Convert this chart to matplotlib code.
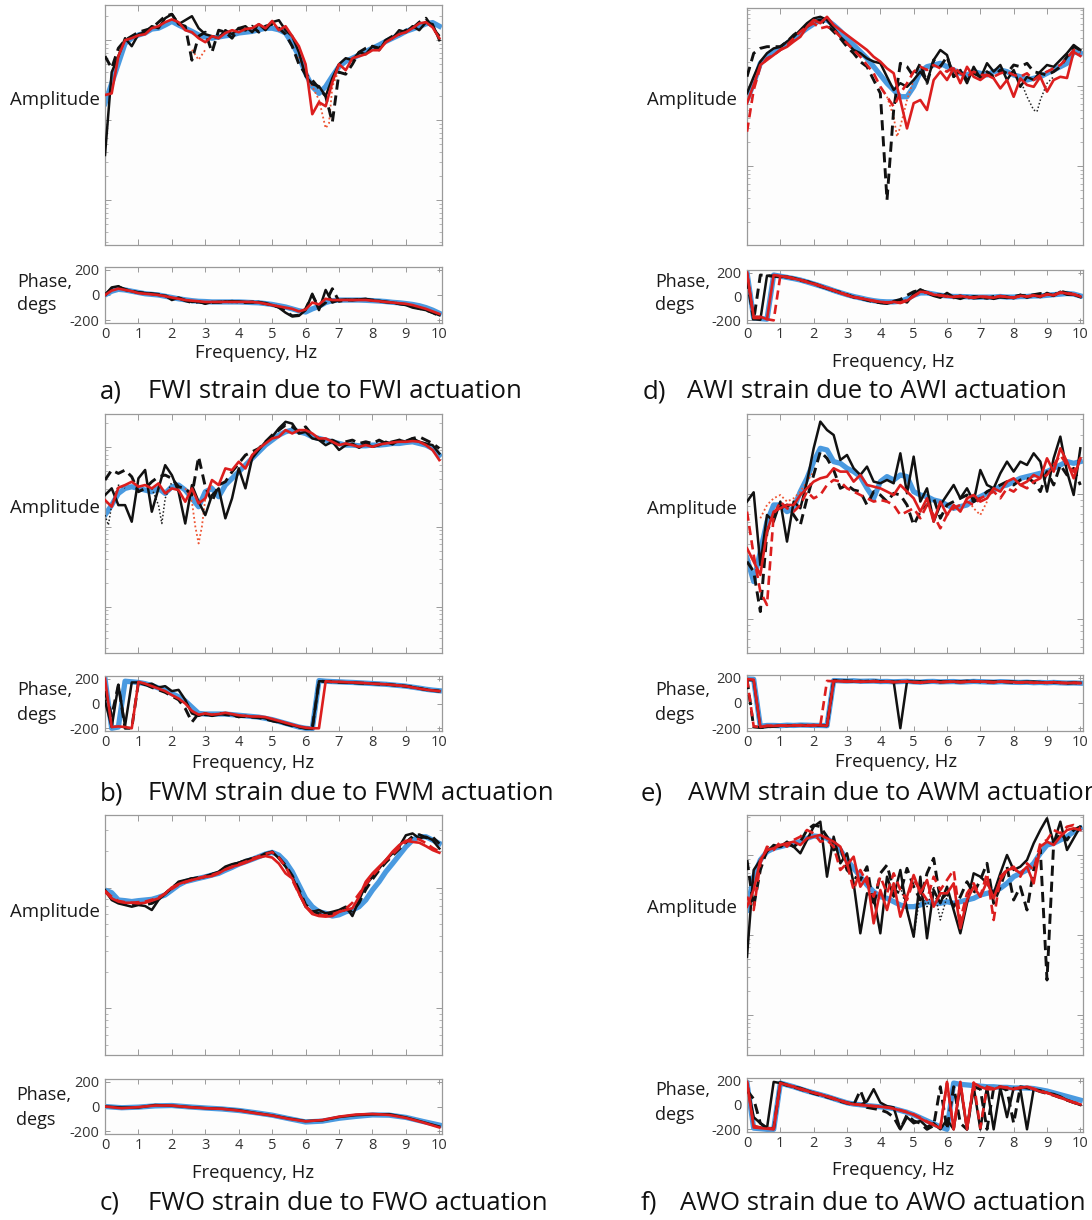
import numpy as np
import matplotlib
matplotlib.use("Agg")
import matplotlib.pyplot as plt
from matplotlib.ticker import LogLocator, NullFormatter

plt.rcParams['axes.unicode_minus'] = False
plt.rcParams['font.family'] = ['Open Sans', 'DejaVu Sans']

W, H = 1092, 1220

# ---------------- frequency grids (Hz) ----------------
FREQ = np.round(np.arange(51) * 0.2, 1)     # spectral lines every 0.2 Hz
FREQ_HALF = np.arange(21) * 0.5              # smooth phase curves of panel c
FREQ_TICKS = list(range(11))
PHASE_TICKS = [-200, 0, 200]
PHASE_TICKLABELS = ['-200', '0', '200']

# ---------------- panel a : FWI (amplitude in dB) ----------------
blue_a = [-15.8, -10.8, -5.8, -0.8, 0.5, 1.3, 1.8, 2.8, 3.0, 3.8, 4.7, 3.8, 3.0, 2.2, 1.3, 0.8, 0.5, 0.8, 1.1, 1.3,
          1.8, 2.0, 2.2, 2.6, 3.0, 3.0, 2.6, 1.8, -0.8, -4.0, -8.3, -11.6, -13.3, -11.6, -9.0, -6.6, -5.3, -4.5, -3.7,
          -2.8, -2.0, -1.2, -0.3, 0.5, 1.3, 2.2, 2.8, 3.4, 4.1, 4.4, 3.5]
red_a = [-13.7, -13.3, -4.0, 0.0, 0.5, 1.2, 1.5, 3.0, 3.5, 4.5, 5.2, 4.5, 2.5, 2.0, 0.5, -0.5, 1.0, 0.5, 1.8, 2.5,
         2.0, 2.8, 3.0, 4.0, 3.0, 4.8, 2.5, 3.5, 1.0, -1.5, -6.0, -18.5, -15.5, -16.5, -10.5, -6.0, -7.5, -4.5, -4.0,
         -3.5, -2.5, -2.5, -0.5, 0.5, 1.5, 2.0, 3.0, 4.2, 4.5, 3.2, 0.5]
black_a = [-28.7, -8.0, -4.0, 0.5, -1.5, 1.5, 2.0, 3.5, 3.0, 5.5, 6.5, 4.0, 5.0, 6.0, 3.0, 1.5, 1.0, 0.5, 2.5, 1.5,
           3.0, 3.5, 2.0, 4.0, 2.5, 4.5, 5.0, 2.5, 1.0, -3.0, -9.0, -11.0, -11.5, -14.0, -9.5, -6.0, -4.5, -5.0, -3.0,
           -3.5, -1.5, -2.5, 0.0, 0.5, 2.5, 2.0, 3.5, 2.5, 4.5, 4.0, 0.0]
bdash_a = [-4.0, -7.0, -2.0, 0.0, 1.0, 2.0, 2.5, 3.0, 4.5, 6.0, 6.5, 4.0, 3.5, -5.0, 1.0, 2.0, -3.0, 2.5, 2.0, 0.5,
           3.0, 2.5, 3.5, 2.0, 3.5, 4.0, 3.0, 1.5, -1.5, -6.0, -8.5, -10.0, -12.0, -14.0, -20.5, -8.0, -8.5, -6.0,
           -3.0, -2.0, -1.5, -2.0, 0.0, 1.0, 1.5, 2.5, 3.0, 4.5, 5.5, 3.0, 1.0]
rdot_a_f = [2.6, 2.8, 3.0, np.nan, 5.8, 6.0, 6.2, 6.4, 6.6, 6.7, 6.8, 7.0]
rdot_a = [-2.4, -4.9, -2.4, np.nan, -4.1, -8.25, -11.6, -14.9, -22.0, -20.75, -11.6, -7.4]

ph_blue_a = [0, 30, 45, 40, 30, 20, 10, 5, 0, -10, -20, -30, -38, -45, -50, -52, -55, -55, -55, -55, -55, -57, -60,
             -62, -68, -75, -85, -95, -110, -125, -135, -110, -90, -60, -45, -40, -40, -40, -40, -42, -45, -48, -52,
             -58, -62, -68, -75, -85, -100, -120, -145]
ph_red_a = [0, 35, 50, 40, 30, 15, 10, 5, 0, -10, -20, -30, -40, -45, -50, -55, -55, -55, -55, -55, -55, -55, -55,
            -60, -70, -80, -90, -100, -110, -130, -115, -60, -75, -30, -40, -40, -40, -40, -40, -40, -45, -50, -55,
            -60, -65, -70, -80, -95, -110, -130, -150]
ph_black_a = [0, 60, 70, 40, 30, 20, 15, 10, 0, -5, -40, -20, -40, -55, -50, -70, -55, -60, -50, -55, -50, -55, -60,
              -55, -70, -80, -100, -140, -170, -165, -120, 10, -120, 40, -60, -40, -35, -40, -35, -30, -45, -45, -55,
              -60, -70, -80, -100, -110, -120, -140, -160]
ph_bdash_a = [0, 50, 65, 45, 30, 20, 15, 10, 5, -5, -30, -25, -45, -60, -55, -65, -60, -55, -55, -50, -55, -60, -55,
              -60, -65, -80, -95, -130, -165, -160, -110, 0, -100, -60, 50, -50, -40, -40, -35, -35, -40, -50, -55,
              -60, -70, -75, -90, -105, -120, -140, -165]

# ---------------- panel b : FWM ----------------
blue_b = [-17.08, -14.58, -11.67, -10.42, -10.0, -10.42, -10.83, -11.25, -10.42, -11.67, -10.0, -9.58, -10.83,
          -12.92, -15.0, -11.25, -10.42, -12.5, -9.58, -7.92, -6.25, -4.58, -2.92, -1.25, 0.42, 1.67, 2.92, 3.75,
          4.17, 3.75, 3.33, 2.5, 2.08, 1.67, 1.25, 0.83, 0.42, 0.42, 0.25, 0.25, 0.42, 0.42, 0.58, 0.83, 0.83, 1.08,
          1.25, 0.83, 0.42, -0.42, -2.08]
red_b = [-13.33, -15.0, -10.25, -9.58, -8.75, -10.0, -9.58, -10.42, -9.17, -11.67, -10.42, -10.83, -13.75, -10.42,
         -14.17, -12.92, -8.33, -9.58, -5.42, -5.83, -3.75, -5.42, -2.08, -0.42, 0.83, 2.08, 2.5, 4.17, 3.33, 4.17,
         4.17, 3.33, 2.08, 2.08, 1.25, 0.42, 0.83, 0.42, 0.0, 0.42, 0.0, 0.58, 0.83, 1.08, 1.25, 1.25, 1.42, 1.25,
         0.42, -0.83, -3.33]
black_b = [-12.1, -10.4, -14.6, -14.6, -18.75, -7.9, -5.8, -16.25, -10.4, -4.6, -7.1, -11.25, -19.2, -9.6, -13.75,
           -17.1, -12.1, -10.4, -17.9, -12.9, -5.4, -10.4, -2.9, -0.8, 1.25, 2.5, 4.6, 6.25, 5.8, 3.3, 3.75, 2.1, 1.7,
           0.4, 1.25, -0.8, 0.4, 0.8, -0.25, 0.8, 0.0, 0.4, 1.25, 0.6, 1.7, 1.25, 2.1, 1.25, 0.8, 0.4, -1.7]
bdash_b = [-8.33, -5.83, -6.67, -5.83, -7.5, -11.25, -10.42, -8.75, -7.5, -7.08, -7.92, -10.0, -10.42, -12.08, -2.5,
           -10.0, -13.75, -9.58, -8.75, -6.25, -4.17, -2.08, -1.25, -0.42, 1.25, 2.92, 4.17, 5.42, 5.0, 3.75, 5.0,
           2.92, 2.08, 1.25, 1.67, 0.83, 1.25, 1.67, 0.83, 1.25, 0.83, 1.67, 0.83, 1.25, 1.67, 1.42, 2.08, 2.5, 1.67,
           0.83, -0.42]
rdot_b_f = [2.4, 2.6, 2.7, 2.8, 2.9, 3.0, 3.2]
rdot_b = [-10.4, -13.75, -19.9, -24.2, -19.9, -12.9, -9.6]
bdot_b_f = [0.0, 0.1, 0.2, 0.4, 0.6, np.nan, 1.4, 1.6, 1.7, 1.8, 2.0]
bdot_b = [-17.1, -19.6, -14.6, -9.6, -10.4, np.nan, -10.4, -14.6, -19.2, -12.9, -8.75]

ph_blue_b = [200, -200, -190, 180, 175, 170, 160, 145, 125, 105, 80, 55, 20, -30, -80, -85, -85, -85, -85, -90, -95,
             -100, -105, -110, -120, -130, -145, -160, -175, -190, -200, -205, 185, 180, 177, 175, 172, 170, 167, 164,
             161, 158, 155, 150, 145, 140, 132, 124, 115, 108, 103]
ph_red_b = [200, -190, -185, -190, -200, 175, 160, 140, 120, 100, 68, 40, 0, -60, -90, -80, -90, -85, -75, -85, -95,
            -100, -105, -105, -110, -125, -140, -155, -170, -185, -195, -200, -200, 180, 175, 175, 172, 170, 168, 165,
            160, 158, 155, 150, 145, 140, 130, 120, 112, 105, 100]
ph_black_b = [20, -190, 150, -180, 170, 170, 150, 160, 130, 140, 100, 110, 30, -80, -100, -80, -100, -90, -80, -90,
              -110, -100, -110, -110, -120, -140, -150, -165, -175, -190, -200, -205, 180, 178, 175, 172, 170, 168,
              165, 163, 160, 157, 155, 150, 145, 140, 132, 122, 112, 105, 100]
ph_bdash_b = [100, -100, 150, -200, -200, 170, 155, 130, 110, 90, 60, 30, -40, -150, -80, -90, -95, -80, -90, -95,
              -105, -105, -110, -115, -125, -140, -150, -165, -180, -190, -200, -200, 180, 178, 175, 172, 170, 168,
              165, 163, 160, 157, 155, 150, 145, 140, 132, 122, 112, 105, 100]

# ---------------- panel c : FWO ----------------
blue_c = [-0.39, -0.83, -2.04, -2.15, -2.3, -2.15, -2.04, -1.93, -1.6, -1.2, -0.39, 0.44, 1.0, 1.27, 1.55, 1.8, 2.1,
          2.38, 2.9, 3.37, 3.9, 4.3, 4.7, 5.14, 5.58, 5.86, 5.4, 4.3, 2.65, 0.44, -1.77, -3.15, -4.0, -4.25, -4.7,
          -4.5, -4.0, -3.7, -3.15, -2.04, -0.39, 1.0, 2.65, 4.0, 5.4, 6.8, 7.9, 8.45, 8.45, 7.9, 7.35]
red_c = [-0.66, -1.77, -2.3, -2.5, -2.5, -2.6, -2.5, -2.15, -1.77, -0.94, 0.05, 0.6, 1.0, 1.27, 1.55, 1.8, 1.93, 2.38,
         3.04, 3.5, 3.76, 4.14, 4.6, 5.0, 5.25, 5.0, 4.0, 2.38, 1.55, -0.94, -3.15, -4.36, -4.7, -4.8, -4.7, -4.0,
         -3.7, -3.4, -1.5, 1.0, 2.38, 3.5, 4.6, 5.97, 7.07, 7.8, 7.6, 7.46, 6.9, 6.24, 5.8]
rdash_c = [-0.5, -1.5, -2.2, -2.4, -2.5, -2.4, -2.3, -2.0, -1.6, -1.0, -0.2, 0.5, 0.9, 1.3, 1.6, 1.9, 2.1, 2.5, 3.0,
           3.4, 3.9, 4.3, 4.8, 5.2, 5.6, 5.9, 5.0, 3.5, 1.3, -1.0, -3.0, -4.2, -4.5, -4.6, -4.4, -4.0, -3.5, -2.5,
           -1.0, 0.5, 2.0, 3.2, 4.5, 5.5, 6.6, 7.6, 8.2, 8.0, 7.4, 6.6, 6.0]
black_c = [-0.39, -2.04, -2.6, -2.87, -3.15, -2.87, -3.04, -3.7, -2.04, -0.94, -0.1, 1.0, 1.27, 1.55, 1.55, 1.8, 2.27,
           2.65, 3.5, 3.9, 4.14, 4.6, 4.86, 5.14, 5.7, 5.97, 4.86, 3.5, 1.8, -0.66, -3.15, -4.0, -3.7, -4.25, -4.0,
           -3.7, -3.15, -4.7, -2.04, 0.44, 1.8, 3.2, 4.6, 5.7, 6.8, 8.7, 9.0, 8.2, 8.45, 7.9, 6.5]
bdash_c = [-0.5, -1.8, -2.4, -2.7, -2.9, -2.7, -2.8, -2.6, -2.0, -1.0, 0.0, 0.8, 1.2, 1.5, 1.7, 1.9, 2.2, 2.6, 3.3,
           3.8, 4.1, 4.5, 4.8, 5.1, 5.5, 5.9, 5.0, 3.7, 2.0, -0.3, -2.8, -3.9, -4.3, -4.4, -4.3, -4.0, -3.6, -3.9,
           -2.5, -0.3, 1.4, 2.9, 4.2, 5.3, 6.4, 7.5, 8.5, 8.8, 8.3, 8.4, 7.3]

ph_blue_c = [0, -10, -5, 5, 8, -3, -12, -20, -32, -50, -70, -98, -125, -118, -95, -80, -68, -70, -88, -120, -150]
ph_red_c = [0, -14, -5, 8, 8, -5, -14, -19, -33, -54, -73, -100, -120, -109, -82, -65, -60, -68, -92, -128, -169]
ph_black_c = [0, -8, -8, 12, 6, -4, -13, -18, -30, -52, -72, -97, -118, -112, -85, -70, -64, -62, -88, -125, -162]

# ---------------- panel d : AWI ----------------
blue_d = [-3.5, 0.67, 5.67, 7.33, 8.58, 9.42, 10.67, 11.92, 13.17, 14.42, 15.5, 16.5, 16.5, 15.25, 13.75, 11.92, 10.25,
          8.58, 6.92, 4.83, 2.75, 0.67, -1.0, -2.67, -2.67, -0.17, 3.58, 4.83, 5.25, 5.67, 4.83, 4.0, 3.17, 2.75,
          3.58, 3.17, 2.75, 3.58, 4.0, 3.58, 2.75, 2.33, 1.5, 1.92, 2.33, 3.17, 4.0, 4.83, 5.67, 8.58, 8.17]
red_d = [-4.3, 0.25, 5.25, 6.5, 7.75, 9.0, 9.8, 11.1, 12.3, 14.8, 16.5, 15.7, 17.3, 15.25, 14.0, 12.75, 11.5, 10.25,
         9.0, 7.3, 6.1, 4.4, 3.2, -3.5, -10.6, -4.3, -3.5, -6.0, 1.5, 3.6, 1.5, 4.4, 0.7, 4.8, 2.3, 1.5, 2.75, 1.9,
         -0.6, 1.5, -2.7, 1.9, 0.25, -0.2, 2.3, -1.4, 1.5, 2.3, 2.0, 8.5, 7.5]
black_d = [-1.8, 2.3, 6.1, 8.2, 9.4, 9.8, 11.1, 12.3, 14.0, 15.7, 16.9, 17.3, 16.5, 14.4, 12.3, 10.7, 9.0, 8.2, 6.9,
           6.1, 5.7, 2.3, -1.0, 0.7, -0.2, 1.5, 3.6, 1.1, 6.5, 9.0, 7.75, 2.3, 4.0, 0.7, 4.8, 1.9, 5.7, 3.6, 5.25,
           1.5, 4.0, -0.2, 2.3, 1.5, 3.6, 5.25, 4.8, 6.5, 8.2, 10.25, 9.0]
bdash_d = [2.33, 8.17, 9.42, 9.83, 9.83, 9.83, 11.08, 12.75, 14.0, 14.83, 16.08, 16.5, 15.25, 13.58, 11.92, 9.83, 8.17,
           6.08, 4.83, 1.5, -1.83, -28.5, -6.0, 5.67, 4.83, 2.33, 5.67, 0.67, 6.5, 4.83, 7.33, 2.33, 4.0, 1.5, 3.17,
           2.33, 3.58, 2.33, 4.0, 3.17, 5.25, 4.83, 5.67, 3.58, 3.17, 2.75, 3.58, 4.83, 7.33, 9.83, 9.0]
rdash_d = [-11.42, -1.0, 4.83, 6.92, 7.75, 9.0, 10.25, 11.92, 13.58, 14.83, 15.67, 14.42, 14.83, 14.0, 12.33, 10.67,
           9.0, 7.33, 5.25, 3.17, -0.17, -2.67, -5.17, -1.83, 0.67, 3.58, 4.83, 4.0, 5.25, 4.42, 3.58, 4.83, 3.17,
           2.33, 3.58, 2.75, 2.75, 2.33, 3.17, 3.58, 2.75, 2.33, 3.17, 1.5, 2.75, 3.58, 4.42, 5.25, 6.92, 9.0, 8.17]
rdot_d_f = [4.2, 4.4, 4.5, 4.6, 4.8, 5.0]
rdot_d = [-2.67, -7.67, -12.67, -10.17, -3.5, 1.5]
bdot_d_f = [8.2, 8.4, 8.6, 8.7, 8.8, 9.0, 9.2]
bdot_d = [1.5, -2.67, -6.0, -6.4, -3.5, 0.67, 2.33]

ph_blue_d = [200, -180, -185, -190, 180, 170, 160, 150, 138, 122, 105, 88, 70, 50, 32, 15, 0, -12, -25, -35, -42,
             -45, -45, -40, -20, 10, 30, 30, 20, 10, 5, 0, 0, -2, -5, -5, -5, -5, 0, -5, -5, 0, 0, 5, 5, 10, 15, 20,
             25, 20, 5]
ph_red_d = [200, -170, -170, -190, 180, 172, 162, 150, 138, 120, 105, 88, 70, 50, 30, 10, -5, -15, -25, -35, -45,
            -50, -45, -55, -35, 0, 40, 35, 15, 10, 0, -5, 5, -5, -10, 0, -5, -10, 5, -5, -10, 5, 0, 10, 0, 20, 10,
            35, 25, 20, 0]
ph_black_d = [190, -190, -195, 175, 170, 165, 165, 155, 140, 125, 110, 90, 65, 50, 30, 15, -5, -15, -30, -40, -55,
              -60, -45, -30, -50, 20, 60, 30, 5, -10, 30, -5, -20, 0, -15, -10, -5, -20, -5, 0, -15, 15, -10, 10,
              -5, 30, 5, 40, 15, 15, -5]
ph_bdash_d = [150, -200, 180, 175, 170, 168, 162, 150, 135, 125, 110, 85, 70, 50, 35, 15, -5, -15, -30, -45, -50,
              -55, -40, -25, 10, 40, 55, 35, 10, 15, 0, -10, 5, -15, 0, -5, -15, 0, -5, -10, 0, 10, 5, 15, 25, 20,
              10, 45, 30, 20, 0]
ph_rdash_d = [200, -180, -180, -190, -200, 175, 165, 152, 140, 123, 107, 90, 72, 52, 33, 14, -2, -14, -26, -38, -46,
              -50, -48, -50, -30, 5, 35, 32, 18, 8, 2, -3, 2, -4, -8, -2, -4, -8, 2, -3, -8, 2, 0, 8, 3, 15, 12, 30,
              25, 18, 2]

# ---------------- panel e : AWM ----------------
blue_e = [-10.24, -13.97, -9.17, -4.37, -1.71, -1.71, -2.77, -2.24, 0.43, 2.56, 5.23, 7.36, 7.09, 5.23, 4.96, 4.16,
          3.63, 2.83, 0.96, -0.64, 2.03, 2.83, 2.29, 3.09, 2.83, 0.43, -0.11, -0.37, -0.91, -1.17, -1.71, -2.24,
          -1.97, -1.71, -0.91, -0.37, 0.16, 0.69, 1.23, 1.49, 2.03, 2.56, 2.83, 3.09, 3.36, 3.63, 4.16, 4.69, 5.23,
          4.96, 5.23]
red_e = [-8.64, -10.77, -12.91, -5.97, -2.77, -2.24, -1.71, -1.71, -0.11, 0.96, 2.03, 2.56, 2.83, 4.16, 3.63, 3.63,
         2.03, 3.09, 1.49, 1.23, 0.96, 0.43, -0.11, 1.49, 0.43, -0.64, -2.77, -0.64, -4.37, -1.17, -3.31, -1.71,
         -2.77, -0.64, -0.11, -1.17, -0.64, 0.96, 0.43, 2.03, 2.56, 1.49, 2.03, 3.09, 2.56, 5.76, 3.63, 7.36, 5.23,
         2.56, 5.76]
black_e = [-1.17, 0.32, -11.31, -3.31, -4.37, -1.17, -7.57, -1.17, -2.24, 2.03, 7.36, 11.63, 10.29, 9.49, 5.49,
           6.29, 4.16, 3.09, 4.43, 2.03, 1.76, 2.29, 1.76, 6.56, 0.16, 6.03, -1.17, 0.96, -4.37, -1.71, -0.11, 1.49,
           -0.64, 0.96, -1.17, 3.89, 1.49, 0.96, 3.36, 5.23, 3.63, 5.23, 4.69, 6.56, 5.23, 0.43, 5.76, 9.23, 3.63,
           -0.11, 7.36]
bdash_e = [-10.77, -12.37, -18.77, -5.97, -3.31, -2.24, -1.71, -3.31, -4.91, -0.64, 3.09, 6.83, 5.76, 3.89, 0.96,
           1.49, 0.69, 0.43, -1.71, 0.43, -0.11, -1.17, 0.16, -0.11, -1.71, -4.91, -2.77, -1.71, -0.64, -3.84, -1.71,
           -1.17, -0.64, -0.11, -1.17, -0.64, 0.43, 0.96, 1.49, 2.03, 1.49, 2.29, 2.56, 2.03, 0.43, 3.63, 1.49, 4.69,
           3.09, 4.16, 1.49]
rdash_e = [-2.77, -9.71, -15.57, -17.71, -3.31, -1.17, -2.24, -2.77, -1.71, 0.43, -0.64, -0.11, 1.49, 2.29, 2.03,
           0.96, 0.43, -0.11, -0.64, -1.17, -0.91, -1.17, -1.71, -3.31, -2.77, -2.24, -3.84, -1.71, -3.31, -5.44,
           -3.31, -2.24, -1.71, -1.17, -1.71, -0.64, -0.11, 0.43, -0.64, 0.96, 0.43, 1.49, 0.96, 2.03, 2.56, 3.09,
           4.69, 6.29, 4.69, 3.63, 5.76]
rdot_e_f = [0.4, 0.6, 0.8, 1.0, 1.2, 1.4, 1.6, 1.8, 2.0, np.nan, 6.6, 6.8, 7.0, 7.2]
rdot_e = [-3.84, -1.71, -0.64, -0.11, -1.17, -0.64, 0.43, 2.03, 3.63, np.nan, -0.64, -2.24, -3.31, -1.17]

ph_blue_e = [190, 188, -185, -178, -178, -180, -176, -178, -175, -176, -178, -178, -180, 178, 176, 174, 176, 172,
             173, 174, 170, 171, 168, 170, 172, 168, 165, 170, 171, 167, 169, 170, 166, 168, 171, 169, 167, 165, 169,
             167, 164, 163, 165, 161, 163, 160, 163, 160, 158, 159, 157]
ph_red_e = [190, 185, -190, -180, -182, -178, -180, -178, -176, -180, -175, -178, -180, 175, 172, 170, 172, 168, 170,
            172, 168, 170, 165, 168, 170, 165, 160, 168, 170, 165, 168, 170, 165, 168, 172, 170, 168, 165, 170, 168,
            165, 163, 165, 160, 162, 160, 165, 160, 158, 160, 158]
ph_black_e = [185, 180, -195, -190, -185, -180, -182, -178, -175, -178, -175, -180, -182, 180, 175, 178, 172, 175,
              170, 175, 172, 168, 170, -200, 170, 168, 172, 165, 170, 172, 168, 170, 172, 175, 170, 168, 172, 170,
              168, 172, 170, 165, 168, 170, 165, 160, 165, 160, 158, 160, 160]
ph_bdash_e = [190, -190, -195, -190, -185, -182, -180, -178, -176, -178, -180, -178, -180, 175, 178, 170, 174, 170,
              172, 176, 169, 172, 166, 170, 173, 166, 162, 169, 172, 166, 170, 168, 167, 170, 173, 168, 166, 167, 171,
              166, 163, 165, 166, 162, 164, 159, 164, 161, 157, 160, 158]
ph_rdash_e = [195, -185, -190, -182, -180, -178, -180, -176, -178, -175, -178, -178, 175, 172, 175, 170, 173, 168,
              171, 173, 168, 170, 166, 169, 171, 166, 162, 168, 170, 165, 168, 169, 166, 169, 172, 169, 167, 164, 170,
              167, 164, 162, 165, 160, 163, 160, 164, 160, 158, 160, 157]

# ---------------- panel f : AWO ----------------
blue_f = [-13.75, -5.42, -1.25, 0.83, 1.67, 2.08, 2.5, 2.92, 3.33, 4.17, 4.75, 4.58, 4.17, 2.92, 1.25, -1.25, -3.33,
          -5.42, -7.5, -9.17, -10.42, -10.83, -11.67, -12.5, -12.92, -12.92, -12.5, -11.67, -12.08, -12.08, -11.67,
          -12.08, -11.67, -11.25, -10.83, -10.0, -9.58, -9.17, -8.33, -7.08, -5.42, -4.58, -3.75, -2.08, 0.42, 2.5,
          2.92, 3.75, 4.58, 5.83, 6.67]
red_f = [-12.92, -8.75, -1.25, 1.25, 1.67, 2.5, 2.92, 3.33, 2.5, 4.17, 4.58, 5.0, 4.17, 3.33, 2.08, -2.5, -0.42,
         -7.92, -5.42, -17.08, -8.75, -13.75, -7.08, -15.42, -10.42, -5.0, -9.58, -6.25, -12.92, -9.58, -9.58, -7.08,
         -18.33, -11.25, -7.92, -10.42, -6.67, -10.83, -6.25, -3.75, -3.33, -4.58, -2.92, -7.08, 2.08, 3.33, 2.5,
         4.58, 6.25, 6.67, 6.25]
black_f = [-25.42, -3.75, -1.25, 0.83, 2.5, 2.08, 3.33, 2.08, 0.42, 3.75, 7.08, 8.33, -5.42, 4.58, -2.08, 0.42, -7.08,
           -19.58, -9.58, -10.42, -19.58, -5.42, -10.42, -3.75, -13.75, -20.42, -5.42, -20.83, -8.75, -12.08, -7.92,
           -13.75, -19.58, -12.08, -4.58, -5.42, -7.08, -9.58, -4.58, 0.0, -3.75, -2.92, -1.25, 2.92, 6.25, 9.17,
           2.92, 8.33, 1.25, 4.17, 7.08]
bdash_f = [-1.25, -12.92, -3.75, 1.25, 2.08, 2.08, 2.92, 2.08, 3.33, 6.25, 7.5, 7.08, 4.58, 1.25, 2.08, -3.75, -5.42,
           -6.25, -2.92, -12.92, -4.58, -2.5, -8.75, -9.58, -3.33, -7.92, -11.25, -4.58, -0.83, -11.25, -9.58, -12.92,
           -10.42, -6.67, -9.58, -6.25, -2.08, -12.08, -7.92, -2.92, -11.25, -7.92, -13.75, -3.75, 1.25, -31.25,
           2.92, 5.42, 3.75, 6.25, 7.08]
rdash_f = [-10.42, -13.75, -2.08, 2.08, 1.25, 3.33, 2.08, 3.75, 4.58, 6.25, 5.42, 3.33, 3.75, 2.08, -3.75, -2.08,
           -8.75, -3.75, -7.08, -10.42, -5.42, -9.58, -4.58, -8.75, -11.25, -6.25, -8.75, -11.25, -5.42, -8.75, -6.25,
           -3.75, -16.25, -9.58, -7.08, -10.42, -4.58, -16.25, -5.42, -3.75, -2.92, -5.42, -2.08, -3.75, 2.92, 3.75,
           6.25, 5.42, 7.08, 7.5, 6.67]
bdot_f_f = [4.6, 4.8, 5.0, 5.2, 5.4, 5.6, 5.8, 6.0]
bdot_f = [-7.92, -13.75, -20.42, -9.58, -12.92, -7.92, -16.25, -10.42]

ph_blue_f = [180, -190, -195, -200, -200, 180, 165, 150, 132, 115, 100, 85, 70, 52, 35, 18, 8, 2, -5, -10, -15, -20,
             -30, -45, -60, -80, -105, -130, -155, -180, -200, 180, 170, 165, 160, 155, 150, 150, 145, 145, 140, 140,
             140, 135, 125, 115, 100, 85, 70, 55, 40]
ph_red_f = [190, -185, -190, -195, -200, 180, 165, 150, 130, 115, 100, 85, 70, 50, 35, 15, 5, 0, -5, -10, -14, -20,
            -30, -45, -60, -80, -110, -140, -165, -190, 190, -200, 190, -200, 180, 150, 130, 130, 150, 140, 130, 140,
            150, 130, 110, 100, 80, 60, 40, 20, 5]
ph_black_f = [180, -100, -150, -190, 190, 180, 160, 150, 140, 120, 100, 85, 70, 55, 35, 20, 10, 0, 30, 130, 20, -10,
              -20, -200, -100, -150, -130, -180, -150, -200, -120, -200, 160, -200, 150, -200, 150, -200, 140, -100,
              140, 130, -200, 130, 120, 100, 90, 70, 40, 20, 0]
ph_bdash_f = [120, 50, -150, -190, -195, 185, 165, 148, 130, 112, 95, 80, 65, 50, 30, 15, 0, 120, -20, -30, -40, -60,
              -100, -200, -80, -130, -150, -200, -170, 150, -200, 150, -150, -200, 150, 130, -200, 140, 150, 120,
              -150, 150, 140, 130, 110, 95, 80, 60, 40, 20, 5]
ph_rdash_f = [190, -170, -185, -190, -195, 180, 165, 152, 135, 118, 102, 88, 72, 55, 38, 20, 8, 2, -3, -8, -12, -18,
              -28, -42, -58, -78, -105, -135, -160, -185, 180, -195, 185, -195, 185, -190, 150, 135, 150, 145, 135,
              145, 150, 135, 115, 100, 82, 62, 42, 22, 8]

# ---------------- text ----------------
CAPTIONS = [('a)', 'FWI strain due to FWI actuation'), ('b)', 'FWM strain due to FWM actuation'),
            ('c)', 'FWO strain due to FWO actuation'), ('d)', 'AWI strain due to AWI actuation'),
            ('e)', 'AWM strain due to AWM actuation'), ('f)', 'AWO strain due to AWO actuation')]

# ---------------- styles ----------------
RED = '#dc1e1e'
STY = {
    'blue': dict(color='#4a9ae0', lw=3.8, ls='-', zorder=2, solid_joinstyle='round'),
    'bdot': dict(color='#222222', lw=1.1, ls=(0, (1, 1.4)), zorder=3),
    'rdot': dict(color='#ee5533', lw=1.3, ls=(0, (1, 1.4)), zorder=3),
    'bdash': dict(color='#111111', lw=2.1, ls=(0, (3.5, 2.0)), zorder=4),
    'black': dict(color='#111111', lw=1.8, ls='-', zorder=5),
    'rdash': dict(color=RED, lw=1.9, ls=(0, (3.5, 2.0)), zorder=6),
    'red': dict(color=RED, lw=1.9, ls='-', zorder=7),
}

LEFT_X = (105, 442)
RIGHT_X = (747, 1083)

PANELS = [
    dict(cap=0, xs=LEFT_X, amp_y=(5, 245), ph_y=(267, 323), db_lim=(-51.2, 8.8),
         amp=[('blue', FREQ, blue_a), ('rdot', rdot_a_f, rdot_a), ('bdash', FREQ, bdash_a),
              ('black', FREQ, black_a), ('red', FREQ, red_a)],
         ph=[('blue', FREQ, ph_blue_a), ('bdash', FREQ, ph_bdash_a), ('black', FREQ, ph_black_a),
             ('red', FREQ, ph_red_a)],
         amp_lab=(100, 100), ph_lab=(17, 282, 305), freq_lab=(256, 353), cap_xy=(100, 148, 392)),
    dict(cap=1, xs=LEFT_X, amp_y=(414, 653), ph_y=(676, 731), db_lim=(-51.6, 8.2),
         amp=[('blue', FREQ, blue_b), ('bdot', bdot_b_f, bdot_b), ('rdot', rdot_b_f, rdot_b),
              ('bdash', FREQ, bdash_b), ('black', FREQ, black_b), ('red', FREQ, red_b)],
         ph=[('blue', FREQ, ph_blue_b), ('bdash', FREQ, ph_bdash_b), ('black', FREQ, ph_black_b),
             ('red', FREQ, ph_red_b)],
         amp_lab=(100, 508), ph_lab=(17, 690, 715), freq_lab=(253, 763), cap_xy=(100, 148, 794)),
    dict(cap=2, xs=LEFT_X, amp_y=(815, 1055), ph_y=(1079, 1134), db_lim=(-27.75, 12.06),
         amp=[('blue', FREQ, blue_c), ('bdash', FREQ, bdash_c), ('black', FREQ, black_c),
              ('rdash', FREQ, rdash_c), ('red', FREQ, red_c)],
         ph=[('blue', FREQ_HALF, ph_blue_c), ('black', FREQ_HALF, ph_black_c), ('red', FREQ_HALF, ph_red_c)],
         amp_lab=(100, 912), ph_lab=(16, 1095, 1120), freq_lab=(253, 1173), cap_xy=(100, 148, 1203)),
    dict(cap=3, xs=RIGHT_X, amp_y=(8, 245), ph_y=(270, 323), db_lim=(-39.75, 19.5),
         amp=[('blue', FREQ, blue_d), ('bdot', bdot_d_f, bdot_d), ('rdot', rdot_d_f, rdot_d),
              ('bdash', FREQ, bdash_d), ('black', FREQ, black_d), ('rdash', FREQ, rdash_d), ('red', FREQ, red_d)],
         ph=[('blue', FREQ, ph_blue_d), ('bdash', FREQ, ph_bdash_d), ('black', FREQ, ph_black_d),
             ('rdash', FREQ, ph_rdash_d), ('red', FREQ, ph_red_d)],
         amp_lab=(737, 100), ph_lab=(655, 282, 305), freq_lab=(893, 362), cap_xy=(643, 687, 392)),
    dict(cap=4, xs=RIGHT_X, amp_y=(414, 653), ph_y=(675, 731), db_lim=(-25.4, 12.85),
         amp=[('blue', FREQ, blue_e), ('rdot', rdot_e_f, rdot_e), ('bdash', FREQ, bdash_e),
              ('black', FREQ, black_e), ('rdash', FREQ, rdash_e), ('red', FREQ, red_e)],
         ph=[('blue', FREQ, ph_blue_e), ('bdash', FREQ, ph_bdash_e), ('black', FREQ, ph_black_e),
             ('rdash', FREQ, ph_rdash_e), ('red', FREQ, ph_red_e)],
         amp_lab=(737, 509), ph_lab=(655, 690, 715), freq_lab=(896, 762), cap_xy=(641, 688, 794)),
    dict(cap=5, xs=RIGHT_X, amp_y=(815, 1055), ph_y=(1078, 1132), db_lim=(-50.0, 10.0),
         amp=[('blue', FREQ, blue_f), ('bdot', bdot_f_f, bdot_f), ('bdash', FREQ, bdash_f),
              ('black', FREQ, black_f), ('rdash', FREQ, rdash_f), ('red', FREQ, red_f)],
         ph=[('blue', FREQ, ph_blue_f), ('bdash', FREQ, ph_bdash_f), ('black', FREQ, ph_black_f),
             ('rdash', FREQ, ph_rdash_f), ('red', FREQ, ph_red_f)],
         amp_lab=(737, 908), ph_lab=(655, 1090, 1115), freq_lab=(893, 1170), cap_xy=(641, 680, 1203)),
]


def db2amp(v):
    return 10.0 ** (np.asarray(v, dtype=float) / 20.0)


def rect(xs, ys):
    x0, x1 = xs
    y0, y1 = ys
    return [x0 / W, 1 - y1 / H, (x1 - x0) / W, (y1 - y0) / H]


def fx(x):
    return x / W


def fy(y):
    return 1 - y / H


SPINE = '#9a9a9a'
TXT = '#1a1a1a'

fig = plt.figure(figsize=(W / 100, H / 100), dpi=100)
fig.patch.set_facecolor('white')

for p in PANELS:
    # amplitude
    ax = fig.add_axes(rect(p['xs'], p['amp_y']))
    ax.set_facecolor('#fdfdfd')
    for kind, f, v in p['amp']:
        assert len(f) == len(v), (p['cap'], kind, len(f), len(v))
        ax.plot(f, db2amp(v), **STY[kind])
    ax.set_yscale('log')
    ax.set_ylim(db2amp(p['db_lim'][0]), db2amp(p['db_lim'][1]))
    ax.set_xlim(0, 10.08)
    ax.set_xticks(range(1, 10))
    ax.yaxis.set_major_locator(LogLocator(base=10, numticks=12))
    ax.yaxis.set_minor_locator(LogLocator(base=10, subs=np.arange(2, 10), numticks=40))
    ax.yaxis.set_major_formatter(NullFormatter())
    ax.yaxis.set_minor_formatter(NullFormatter())
    ax.tick_params(axis='both', which='both', direction='in', colors=SPINE, top=True, right=True,
                   labelbottom=False, labelleft=False)
    ax.tick_params(which='major', length=4, width=0.7)
    ax.tick_params(which='minor', length=2, width=0.5)
    for s in ax.spines.values():
        s.set_color(SPINE)
        s.set_linewidth(0.9)

    # phase
    axp = fig.add_axes(rect(p['xs'], p['ph_y']))
    axp.set_facecolor('#fdfdfd')
    for kind, f, v in p['ph']:
        assert len(f) == len(v), (p['cap'], 'ph', kind, len(f), len(v))
        axp.plot(f, v, **STY[kind])
    axp.set_xlim(0, 10.08)
    axp.set_ylim(-222, 222)
    axp.set_xticks(FREQ_TICKS)
    axp.set_yticks(PHASE_TICKS)
    axp.set_yticklabels(PHASE_TICKLABELS)
    axp.tick_params(axis='both', which='both', direction='in', color=SPINE, top=True, right=True,
                    length=3.5, width=0.7, labelsize=10.5, labelcolor='#333333')
    axp.tick_params(axis='x', pad=3)
    axp.tick_params(axis='y', pad=4)
    for s in axp.spines.values():
        s.set_color(SPINE)
        s.set_linewidth(0.9)

    # texts
    fig.text(fx(p['amp_lab'][0]), fy(p['amp_lab'][1]), 'Amplitude', ha='right', va='center',
             fontsize=13.4, color=TXT)
    fig.text(fx(p['ph_lab'][0]), fy(p['ph_lab'][1]), 'Phase,', ha='left', va='center', fontsize=13, color=TXT)
    fig.text(fx(p['ph_lab'][0]), fy(p['ph_lab'][2]), 'degs', ha='left', va='center', fontsize=13, color=TXT)
    fig.text(fx(p['freq_lab'][0]), fy(p['freq_lab'][1]), 'Frequency, Hz', ha='center', va='center',
             fontsize=13.3, color=TXT)
    lab, txt = CAPTIONS[p['cap']]
    cx0, cx1, cy = p['cap_xy']
    fig.text(fx(cx0), fy(cy), lab, ha='left', va='center', fontsize=18.5, color='#111111')
    fig.text(fx(cx1), fy(cy), txt, ha='left', va='center', fontsize=18.5, color='#111111')

fig.savefig('out.png', dpi=100, facecolor='white')
